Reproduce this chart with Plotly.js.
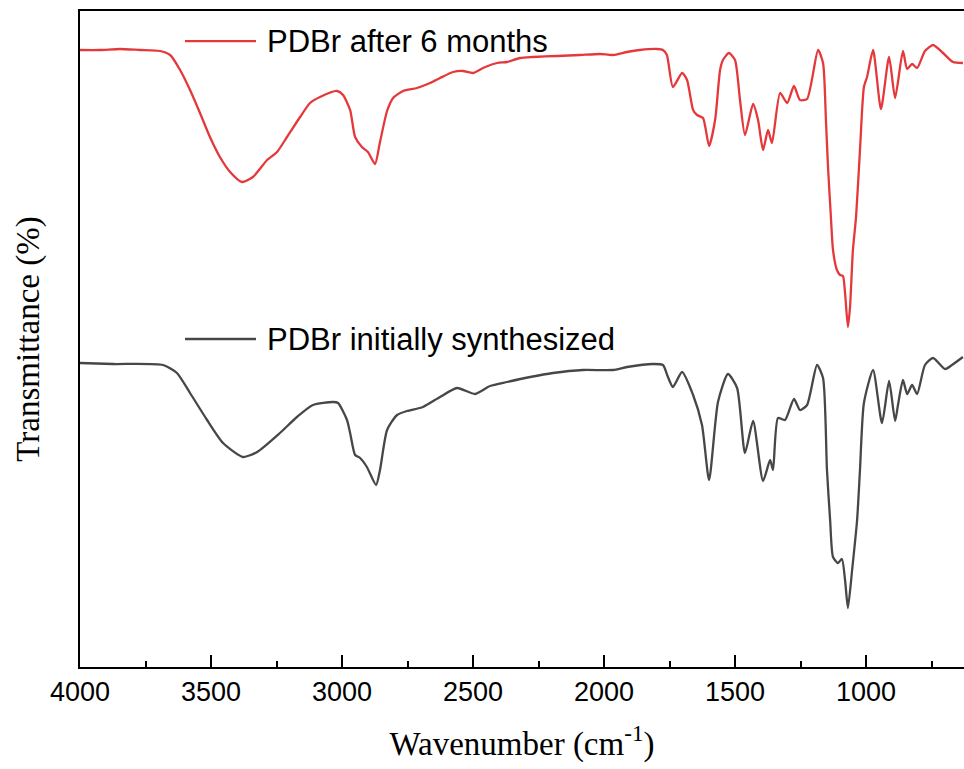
<!DOCTYPE html>
<html>
<head>
<meta charset="utf-8">
<script src="https://cdn.plot.ly/plotly-3.0.1.min.js"></script>
<style>html,body{margin:0;padding:0;background:#fff;}#chart{width:964px;height:769px;}</style>
</head>
<body>
<div id="chart"></div>
<script>
// Wavenumber (cm^-1) and transmittance (arbitrary offset units)
const redName = "PDBr after 6 months";
const grayName = "PDBr initially synthesized";

const redWn = [4000,3924,3847,3771,3695,3656,3618,3580,3542,3504,3466,3427,3382,3340,3286,3248,3210,3160,3122,3084,3019,2996,2969,2950,2924,2901,2874,2855,2828,2805,2767,2714,2664,2626,2576,2538,2500,2462,2408,2370,2321,2271,2179,2092,2015,1966,1912,1863,1798,1775,1760,1737,1702,1683,1660,1645,1622,1599,1576,1557,1546,1523,1500,1481,1462,1431,1412,1393,1374,1359,1328,1301,1275,1252,1225,1183,1164,1153,1145,1134,1126,1111,1099,1088,1080,1069,1061,1050,1038,1023,1008,996,973,943,912,889,859,843,824,805,775,744,706,668,630];
const redT = [617,617,618,617,616,612,597,577,554,530,510,495,485,490,507,515,530,550,564,570,576,572,557,530,520,515,503,525,556,569,576,579,584,589,595,596,594,599,604,605,609,610,611,612,613,612,615,617,618,617,612,580,594,587,557,552,549,521,547,597,607,614,607,567,532,563,547,517,537,524,574,564,581,567,568,617,604,547,500,450,417,397,392,391,374,340,360,417,450,517,580,590,617,558,610,569,616,598,603,599,616,622,614,605,604];

const grayWn = [4000,3874,3683,3630,3580,3515,3454,3378,3324,3237,3172,3111,3034,3015,2981,2969,2950,2931,2905,2870,2855,2828,2790,2752,2691,2626,2561,2492,2435,2370,2282,2195,2080,1966,1912,1813,1775,1756,1737,1702,1660,1626,1599,1565,1527,1492,1462,1431,1393,1366,1355,1336,1309,1275,1252,1225,1187,1164,1149,1137,1126,1107,1092,1080,1069,1053,1034,1023,1008,973,939,912,889,878,859,843,824,805,775,744,698,672,630];
const grayT = [304,303,302,294,274,247,224,210,215,234,250,262,265,264,247,234,212,209,200,182,197,237,252,256,260,270,279,273,281,285,290,294,297,297,300,303,302,290,280,295,272,242,187,265,293,279,214,246,186,207,197,249,247,268,257,262,302,289,197,147,110,104,108,87,59,97,147,197,264,297,244,286,246,262,287,273,282,273,302,309,298,302,310];

const xTickVals = [4000,3500,3000,2500,2000,1500,1000];
const xTickText = ["4000","3500","3000","2500","2000","1500","1000"];

const redColor = "#e5383b";
const grayColor = "#474747";

const traces = [
  {x: redWn, y: redT, type: "scatter", mode: "lines", name: redName,
   line: {color: redColor, width: 2.3, shape: "spline", smoothing: 0.6}, showlegend: false},
  {x: grayWn, y: grayT, type: "scatter", mode: "lines", name: grayName,
   line: {color: grayColor, width: 2.3, shape: "spline", smoothing: 0.6}, showlegend: false}
];

const layout = {
  width: 964, height: 769,
  margin: {l: 80, r: 0, t: 11, b: 102},
  paper_bgcolor: "#fff", plot_bgcolor: "#fff",
  xaxis: {
    range: [4000, 626], autorange: false,
    showgrid: false, zeroline: false,
    showline: true, linecolor: "#000", linewidth: 2, mirror: true,
    ticks: "inside", ticklen: 12, tickwidth: 2, tickcolor: "#000",
    tickvals: xTickVals, ticktext: xTickText,
    minor: {dtick: 250, tick0: 0, ticks: "inside", ticklen: 6, tickwidth: 2, tickcolor: "#000", showgrid: false},
    tickfont: {family: "Liberation Sans, Arial, sans-serif", size: 27, color: "#000"},
    title: {text: "Wavenumber (cm<sup>-1</sup>)", font: {family: "Liberation Serif, Times New Roman, serif", size: 33, color: "#000"}, standoff: 25}
  },
  yaxis: {
    range: [0, 656], autorange: false,
    showgrid: false, zeroline: false,
    showline: true, linecolor: "#000", linewidth: 2,
    ticks: "", showticklabels: false,
    title: {text: "Transmittance (%)", font: {family: "Liberation Serif, Times New Roman, serif", size: 33, color: "#000"}, standoff: 28}
  },
  shapes: [
    {type: "line", xref: "paper", yref: "paper", x0: 0.1188, x1: 0.1991, y0: 0.954, y1: 0.954, line: {color: redColor, width: 2.3}},
    {type: "line", xref: "paper", yref: "paper", x0: 0.1188, x1: 0.1991, y0: 0.5, y1: 0.5, line: {color: grayColor, width: 2.3}}
  ],
  annotations: [
    {text: redName, xref: "paper", yref: "paper", x: 0.2093, y: 0.954, xanchor: "left", yanchor: "middle", showarrow: false,
     font: {family: "Liberation Sans, Arial, sans-serif", size: 31, color: "#000"}},
    {text: grayName, xref: "paper", yref: "paper", x: 0.2093, y: 0.5, xanchor: "left", yanchor: "middle", showarrow: false,
     font: {family: "Liberation Sans, Arial, sans-serif", size: 31, color: "#000"}}
  ]
};

Plotly.newPlot("chart", traces, layout, {staticPlot: true, displayModeBar: false});
</script>
</body>
</html>
